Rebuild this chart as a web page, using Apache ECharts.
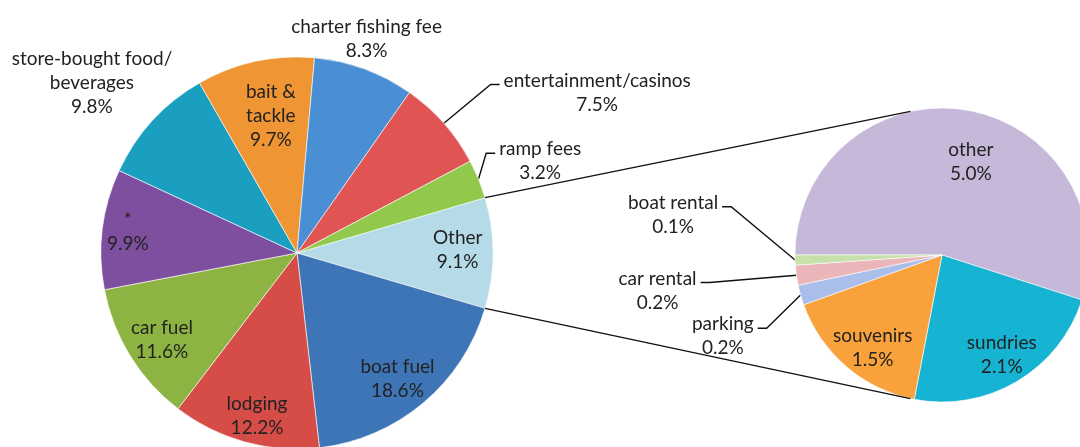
<!DOCTYPE html>
<html><head><meta charset="utf-8">
<script src="https://cdn.jsdelivr.net/npm/echarts@6/dist/echarts.min.js"></script>
<style>html,body{margin:0;padding:0;background:#fff}#c{width:1080px;height:447px}</style>
</head><body><div id="c"></div>
<script>
// ---- data ----
const mainCategories = ['Other', 'boat fuel', 'lodging', 'car fuel', '*', 'store-bought food/\nbeverages', 'bait &\ntackle', 'charter fishing fee', 'entertainment/casinos', 'ramp fees'];
const mainValues = [9.1, 18.6, 12.2, 11.6, 9.9, 9.8, 9.7, 8.3, 7.5, 3.2];
const detailCategories = ['other', 'sundries', 'souvenirs', 'parking', 'car rental', 'boat rental'];
const detailValues = [5.0, 2.1, 1.5, 0.2, 0.2, 0.1];

// ---- styles ----
const mainColors = ['#b5dbe8', '#3e75b6', '#d64d47', '#8db443', '#7e4f9e', '#1a9fc0', '#ef9533', '#4a8ed3', '#e05454', '#92c94c'];
const detailColors = ['#c6b8d8', '#17b3d3', '#f9a23c', '#a9bee8', '#eab6ba', '#c8e0aa'];

// ---- layout ----
const MAIN = {cx: 297, cy: 253, r: 196};
const DETAIL = {cx: 942, cy: 255, r: 147};
const CONNECT_ANGLE = 102.4;
const mainPlace = [
  {k: .82, da: 1}, {k: .82, da: -1.4}, {k: .855, da: 1.6}, {k: .82, da: 1.1}, {k: .87, da: 0},
  {k: 1.36, da: 2.8}, {k: .71, da: -1.5}, {k: 1.15, da: 2.1},
  {k: 1.737, da: -13.3, line: 1}, {k: 1.326, da: -1.5, line: 1}
];
const detailPlace = [
  {k: .66, da: -8.4}, {k: .79, da: .3}, {k: .79, da: 3.9},
  {k: 1.59, da: 4.5, line: -1}, {k: 1.95, da: -0.8, line: -1}, {k: 1.85, da: -10.5, line: -1}
];

function sum(a) { return a.reduce((s, v) => s + v, 0); }
function angles(values, start) {
  const tot = sum(values); let a = start;
  return values.map(v => { const sw = v / tot * 360; const r = {s: a, e: a - sw, mid: a - sw / 2}; a -= sw; return r; });
}
const mainStart = mainValues[0] / sum(mainValues) * 360 / 2;
const detailStart = 180;
const mainAng = angles(mainValues, mainStart);
const detailAng = angles(detailValues, detailStart);
const D2R = Math.PI / 180;

function makeLayout(P, ang, place) {
  return function (params) {
    const i = params.dataIndex, p = place[i];
    const a = (ang[i].mid + p.da) * D2R;
    const x = P.cx + p.k * P.r * Math.cos(a), y = P.cy - p.k * P.r * Math.sin(a);
    const out = {x: x, y: y, align: 'center', verticalAlign: 'middle'};
    if (p.line) {
      const w = params.labelRect.width, h = params.labelRect.height;
      const m = ang[i].mid * D2R;
      const ex = P.cx + P.r * Math.cos(m), ey = P.cy - P.r * Math.sin(m);
      const yl = y - h / 2 + 16;
      let kx, endx;
      if (p.line > 0) { kx = x - w / 2 - 13; endx = x - w / 2 - 4; }
      else { kx = x + w / 2 + 13; endx = x + w / 2 + 4; }
      out.labelLinePoints = [[ex, ey], [kx, yl], [endx, yl]];
    }
    return out;
  };
}

const labelBase = {
  show: true, fontFamily: 'Lato', fontSize: 19, lineHeight: 24, color: '#222',
  formatter: p => p.name + '\n' + p.value.toFixed(1) + '%'
};

function buildData(cats, vals, cols, place) {
  return cats.map((n, i) => ({
    name: n, value: vals[i], itemStyle: {color: cols[i]},
    label: {position: (place[i].line || place[i].k > 1) ? 'outside' : 'inside'},
    labelLine: {show: !!place[i].line}
  }));
}

function connector(sign) {
  const a1 = sign * mainStart * D2R, a2 = sign * CONNECT_ANGLE * D2R;
  return {
    type: 'line', z: 10, silent: true,
    shape: {
      x1: MAIN.cx + MAIN.r * Math.cos(a1), y1: MAIN.cy - MAIN.r * Math.sin(a1),
      x2: DETAIL.cx + DETAIL.r * Math.cos(a2), y2: DETAIL.cy - DETAIL.r * Math.sin(a2)
    },
    style: {stroke: '#111', lineWidth: 1.4}
  };
}

const chart = echarts.init(document.getElementById('c'), null, {renderer: 'canvas'});
chart.setOption({
  backgroundColor: '#fff',
  animation: false,
  graphic: [connector(1), connector(-1)],
  series: [
    {
      type: 'pie', center: [MAIN.cx, MAIN.cy], radius: MAIN.r, startAngle: mainStart, clockwise: true,
      avoidLabelOverlap: false, minShowLabelAngle: 0,
      itemStyle: {borderColor: 'rgba(255,255,255,0.6)', borderWidth: 1},
      label: labelBase,
      labelLine: {lineStyle: {color: '#111', width: 1.4}},
      labelLayout: makeLayout(MAIN, mainAng, mainPlace),
      emphasis: {disabled: true},
      data: buildData(mainCategories, mainValues, mainColors, mainPlace)
    },
    {
      type: 'pie', center: [DETAIL.cx, DETAIL.cy], radius: DETAIL.r, startAngle: detailStart, clockwise: true,
      avoidLabelOverlap: false, minShowLabelAngle: 0,
      itemStyle: {borderColor: 'rgba(255,255,255,0.6)', borderWidth: 1},
      label: labelBase,
      labelLine: {lineStyle: {color: '#111', width: 1.4}},
      labelLayout: makeLayout(DETAIL, detailAng, detailPlace),
      emphasis: {disabled: true},
      data: buildData(detailCategories, detailValues, detailColors, detailPlace)
    }
  ]
});
</script>
</body></html>
